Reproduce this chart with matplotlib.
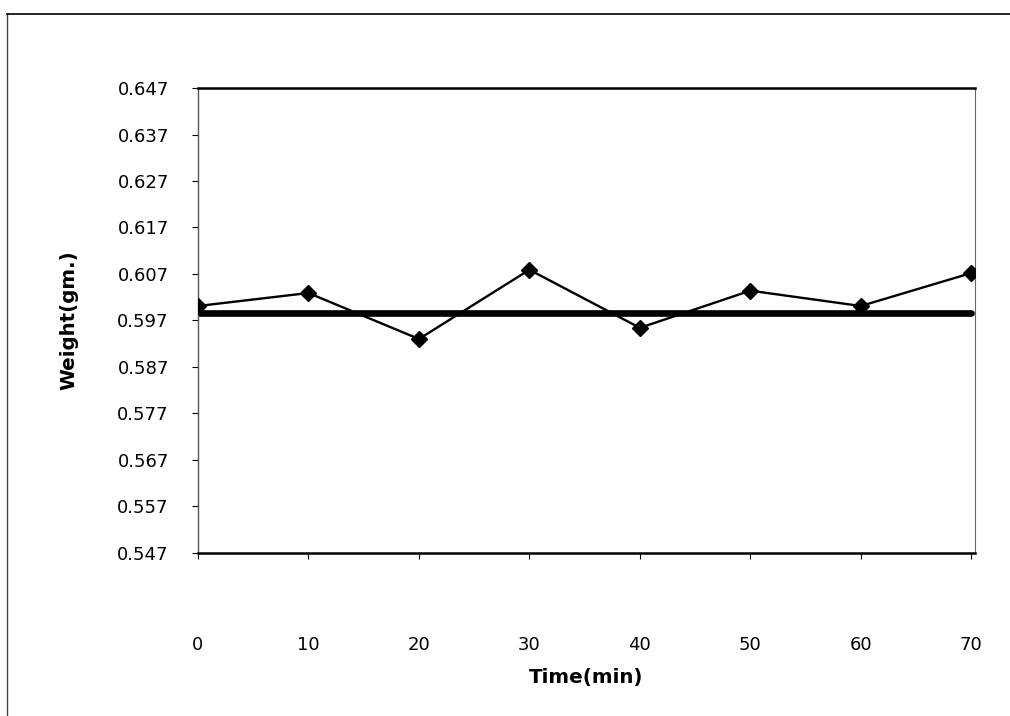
import matplotlib
matplotlib.use('Agg')
import matplotlib.pyplot as plt
from matplotlib.lines import Line2D

plt.rcParams['font.family'] = ['DejaVu Sans']

# data
time_min = [0, 10, 20, 30, 40, 50, 60, 70]
weight = [0.6001, 0.6029, 0.5930, 0.6079, 0.5954, 0.6034, 0.6001, 0.6072]
mean_weight = 0.5985
yticks = [0.547, 0.557, 0.567, 0.577, 0.587, 0.597, 0.607, 0.617, 0.627, 0.637, 0.647]

fig = plt.figure(figsize=(10.1, 7.16), dpi=100)
fig.patch.set_facecolor('white')
ax = fig.add_axes([0.196, 0.228, 0.769, 0.649])

ax.plot([time_min[0], time_min[-1]], [mean_weight, mean_weight], color='black', lw=4.8,
        solid_capstyle='round', zorder=2)
ax.plot(time_min, weight, color='black', lw=1.7, marker='D', markersize=8, zorder=3)

ax.set_xlim(0, 70.3)
ax.set_ylim(0.547, 0.647)
ax.set_xticks(time_min)
ax.set_yticks(yticks)
ax.set_yticklabels(["%.3f" % v for v in yticks])
ax.tick_params(axis='y', direction='out', length=4, width=0.8, pad=17, labelsize=13)
ax.tick_params(axis='x', direction='out', length=4, width=0.8, pad=56, labelsize=13)

ax.spines['left'].set_color('#555555')
ax.spines['left'].set_linewidth(1.0)
ax.spines['right'].set_color('#666666')
ax.spines['right'].set_linewidth(0.8)
ax.spines['top'].set_linewidth(1.8)
ax.spines['bottom'].set_linewidth(1.8)

ax.set_ylabel("Weight(gm.)", fontsize=14.3, fontweight='bold', labelpad=28)
ax.set_xlabel("Time(min)", fontsize=14.3, fontweight='bold', labelpad=10)

# outer chart frame (left and top edges visible in the scan)
fig.add_artist(Line2D([0.007, 0.007], [0.0, 0.981], transform=fig.transFigure,
                      color='#444444', lw=1.0))
fig.add_artist(Line2D([0.007, 1.0], [0.981, 0.981], transform=fig.transFigure,
                      color='black', lw=1.2))

fig.savefig("out.png", dpi=100)
